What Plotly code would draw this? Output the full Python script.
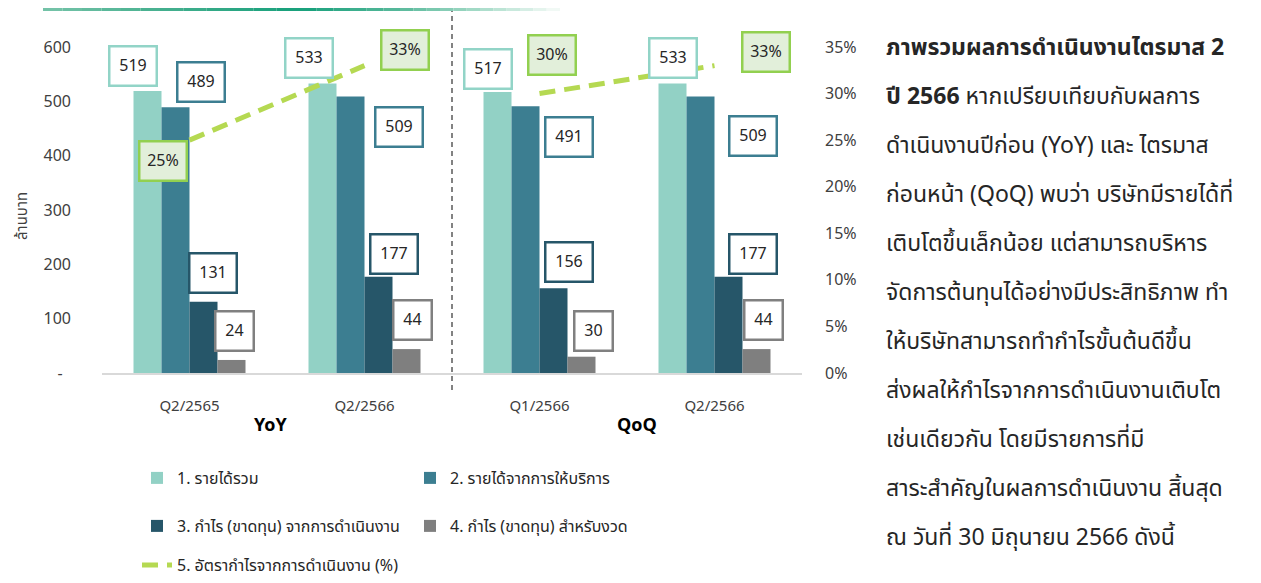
import plotly.graph_objects as go

# ---------------- data ----------------
categories = ["Q2/2565", "Q2/2566", "Q1/2566", "Q2/2566"]
group_names = ["YoY", "QoQ"]
series_names = [
    "1. รายได้รวม",
    "2. รายได้จากการให้บริการ",
    "3. กำไร (ขาดทุน) จากการดำเนินงาน",
    "4. กำไร (ขาดทุน) สำหรับงวด",
]
total_revenue = [519, 533, 517, 533]
service_revenue = [489, 509, 491, 509]
operating_profit = [131, 177, 156, 177]
net_profit = [24, 44, 30, 44]
margin_name = "5. อัตรากำไรจากการดำเนินงาน (%)"
operating_margin = [25, 33, 30, 33]
y_tick_values = [0, 100, 200, 300, 400, 500, 600]
y_tick_labels = ["-\u00a0\u00a0", "100", "200", "300", "400", "500", "600"]
y2_tick_values = [0, 5, 10, 15, 20, 25, 30, 35]
y2_tick_labels = ["0%", "5%", "10%", "15%", "20%", "25%", "30%", "35%"]
y_title = "ล้านบาท"
paragraph_lines = [
    "<b>ภาพรวมผลการดำเนินงานไตรมาส 2</b>",
    "<b>ปี 2566</b> หากเปรียบเทียบกับผลการ",
    "ดำเนินงานปีก่อน (YoY) และ ไตรมาส",
    "ก่อนหน้า (QoQ) พบว่า บริษัทมีรายได้ที่",
    "เติบโตขึ้นเล็กน้อย แต่สามารถบริหาร",
    "จัดการต้นทุนได้อย่างมีประสิทธิภาพ ทำ",
    "ให้บริษัทสามารถทำกำไรขั้นต้นดีขึ้น",
    "ส่งผลให้กำไรจากการดำเนินงานเติบโต",
    "เช่นเดียวกัน โดยมีรายการที่มี",
    "สาระสำคัญในผลการดำเนินงาน สิ้นสุด",
    "ณ วันที่ 30 มิถุนายน 2566 ดังนี้",
]

# ---------------- styles ----------------
FONT = "Tahoma, 'Leelawadee UI', 'Noto Sans Thai', 'Noto Sans', sans-serif"
bar_colors = ["#92D1C5", "#3C7E91", "#265669", "#7F7F7F"]
label_borders = ["#92D4C7", "#3C7E91", "#265669", "#808080"]
line_color = "#B5D952"
pct_border = "#92D050"
pct_bg = "#E2EFDA"
text_color = "#262626"
axis_text = "#404040"

# page is offset by the default body margin of the html page
OFF = 8
W, H = 1261 - OFF, 583 - OFF
PLOT_L, PLOT_R, PLOT_T, PLOT_B = 102, 802, 47, 373   # target page pixels
M_L, M_R = PLOT_L - OFF, W - (PLOT_R - OFF)
M_T, M_B = PLOT_T - OFF, H - (PLOT_B - OFF)
PW, PH = W - M_L - M_R, H - M_T - M_B
BAR_W = 0.16


def px_x(px):
    return (px - OFF - M_L) / PW


def px_y(py):
    return (H - M_B - (py - OFF)) / PH


# label offsets (pixels) per series, per category
bar_label_shift = [
    [(-15, 25), (-14, 25), (-10, 23), (0, 25)],
    [(25, 25), (48, -31), (43, -31), (52, -40)],
    [(9, 29), (15, 23), (15, 26), (24, 23)],
    [(3, 29), (6, 29), (12, 26), (7, 29)],
]
pct_label_shift = [(-27, -21), (40, 16), (12, 39), (51, 14)]

series_values = [total_revenue, service_revenue, operating_profit, net_profit]
x_pos = list(range(len(categories)))

fig = go.Figure()

for i, (name, vals) in enumerate(zip(series_names, series_values)):
    fig.add_trace(go.Bar(
        x=x_pos, y=vals, name=name,
        marker=dict(color=bar_colors[i], line=dict(width=0)),
        legend="legend" if i < 2 else "legend2",
    ))

# operating margin line: YoY and QoQ segments
for k in range(len(group_names)):
    xs = x_pos[2 * k: 2 * k + 2]
    ys = operating_margin[2 * k: 2 * k + 2]
    fig.add_trace(go.Scatter(
        x=xs, y=ys, yaxis="y2", mode="lines", name=margin_name,
        line=dict(color=line_color, width=5, dash="16px,9px"),
        legend="legend3", legendgroup="margin", showlegend=(k == 0),
    ))

annotations = []
for i, vals in enumerate(series_values):
    for g, v in enumerate(vals):
        dx, dy = bar_label_shift[i][g]
        annotations.append(dict(
            x=g + (i - 1.5) * BAR_W, y=v, xref="x", yref="y",
            xanchor="center", yanchor="middle",
            text=str(v), showarrow=False, xshift=dx, yshift=dy,
            width=45 if v >= 100 else 36, height=37,
            bordercolor=label_borders[i], borderwidth=2.5, borderpad=0,
            bgcolor="white", font=dict(family=FONT, size=16, color=text_color),
        ))
for g, v in enumerate(operating_margin):
    dx, dy = pct_label_shift[g]
    annotations.append(dict(
        x=g, y=v, xref="x", yref="y2", text=f"{v}%", showarrow=False,
        xanchor="center", yanchor="middle",
        xshift=dx, yshift=dy, width=45, height=37,
        bordercolor=pct_border, borderwidth=2.5, borderpad=0, bgcolor=pct_bg,
        font=dict(family=FONT, size=16, color=text_color),
    ))

# group labels
for name, cx in zip(group_names, [270, 637]):
    annotations.append(dict(
        x=px_x(cx), y=px_y(425), xref="paper", yref="paper", text=f"<b>{name}</b>",
        xanchor="center", yanchor="middle",
        showarrow=False, font=dict(family=FONT, size=18, color="#000000"),
    ))

# y axis title
annotations.append(dict(
    x=px_x(22), y=px_y(216), xref="paper", yref="paper", text=y_title,
    xanchor="center", yanchor="middle",
    textangle=-90, showarrow=False, font=dict(family=FONT, size=15, color=axis_text),
))

# paragraph on the right
line_top, line_gap = 48, 49
for n, line in enumerate(paragraph_lines):
    annotations.append(dict(
        x=px_x(884), y=px_y(line_top + n * line_gap), xref="paper", yref="paper",
        xanchor="left", yanchor="middle", text=line, showarrow=False,
        font=dict(family=FONT, size=23, color=text_color),
    ))

shapes = []
# divider between YoY and QoQ
shapes.append(dict(
    type="line", xref="x", yref="paper", x0=1.5, x1=1.5,
    y0=px_y(390), y1=px_y(6), line=dict(color="#404040", width=1.3, dash="5px,4px"),
))
# decorative gradient rule at the top
stops = [(43, (120, 196, 170)), (160, (70, 176, 143)), (300, (22, 160, 123)),
         (400, (90, 186, 156)), (480, (168, 220, 201)), (560, (248, 252, 250))]
for (xa, ca), (xb, cb) in zip(stops[:-1], stops[1:]):
    steps = 6
    for s in range(steps):
        t0, t1 = s / steps, (s + 1) / steps
        tm = (t0 + t1) / 2
        col = tuple(int(ca[j] + (cb[j] - ca[j]) * tm) for j in range(3))
        shapes.append(dict(
            type="line", xref="paper", yref="paper",
            x0=px_x(xa + (xb - xa) * t0), x1=px_x(xa + (xb - xa) * t1),
            y0=px_y(OFF + 1.5), y1=px_y(OFF + 1.5),
            line=dict(color="rgb(%d,%d,%d)" % col, width=3),
        ))

legend_common = dict(
    orientation="h", xanchor="left", entrywidth=228,
    font=dict(family=FONT, size=16, color=text_color), bgcolor="rgba(0,0,0,0)",
    itemwidth=30, traceorder="normal",
)
LEG_X = px_x(137)

fig.update_layout(
    width=W, height=H,
    margin=dict(l=M_L, r=M_R, t=M_T, b=M_B, autoexpand=False),
    paper_bgcolor="white", plot_bgcolor="white",
    barmode="group", bargap=0.36, bargroupgap=0,
    font=dict(family=FONT, color=axis_text),
    xaxis=dict(
        range=[-0.5, len(categories) - 0.5], tickvals=x_pos, ticktext=categories,
        showgrid=False, zeroline=False, showline=True, linecolor="#D9D9D9", linewidth=2,
        ticks="", ticklabelstandoff=18, tickfont=dict(family=FONT, size=15, color=axis_text),
    ),
    yaxis=dict(
        range=[0, 600], tickvals=y_tick_values, ticktext=y_tick_labels,
        showgrid=False, zeroline=False, showline=False, ticks="",
        ticklabelstandoff=30, tickfont=dict(family=FONT, size=16, color=axis_text),
    ),
    yaxis2=dict(
        range=[0, 35], tickvals=y2_tick_values, ticktext=y2_tick_labels, overlaying="y",
        side="right", showgrid=False, zeroline=False, showline=False, ticks="",
        ticklabelstandoff=22, tickfont=dict(family=FONT, size=16, color=axis_text),
    ),
    legend=dict(x=LEG_X, y=px_y(478), yanchor="middle", **legend_common),
    legend2=dict(x=LEG_X, y=px_y(526), yanchor="middle", **legend_common),
    legend3=dict(x=LEG_X, y=px_y(582), yanchor="bottom", **legend_common),
    annotations=annotations,
    shapes=shapes,
    showlegend=True,
)

fig.write_html("out.html")
